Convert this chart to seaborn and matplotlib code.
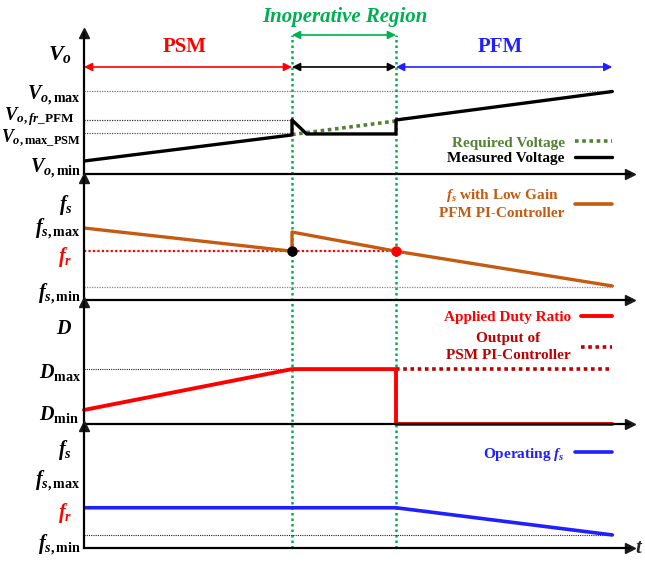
import matplotlib
matplotlib.use("Agg")
import matplotlib.pyplot as plt
import matplotlib.transforms as mtransforms
from matplotlib.lines import Line2D
import seaborn as sns

sns.set_theme(style="white")
plt.rcParams['font.family'] = ['Liberation Serif', 'DejaVu Serif']
plt.rcParams['font.weight'] = 'bold'
plt.rcParams['mathtext.fontset'] = 'custom'
plt.rcParams['mathtext.rm'] = 'Liberation Serif:bold'
plt.rcParams['mathtext.bf'] = 'Liberation Serif:bold'
plt.rcParams['mathtext.it'] = 'Liberation Serif:italic:bold'

# ---- data (time in units of PSM duration; levels as fraction of panel height) ----
t_psm_end = 1.0
t_inop_end = 1.5
t_end = 2.54

# Panel 1: output voltage
vo_levels = [0.589, 0.383, 0.291]          # Vo,max ; Vo,fr_PFM ; Vo,max_PSM
t_measured = [0.0, 1.0, 1.0, 1.07, 1.5, 1.5, 2.54]
v_measured = [0.092, 0.277, 0.383, 0.284, 0.284, 0.383, 0.585]
t_required = [1.0, 1.5]
v_required = [0.28, 0.376]

# Panel 2: fs with low gain PFM PI-controller
fs_max, f_r, fs_min = 0.59, 0.40, 0.107
t_fs = [0.0, 1.0, 1.0, 1.5, 2.54]
v_fs = [0.59, 0.40, 0.557, 0.40, 0.115]

# Panel 3: duty ratio
d_max = 0.45
t_duty = [0.0, 1.0, 1.5, 1.5, 2.54]
v_duty = [0.115, 0.45, 0.45, 0.0, 0.0]
t_psm_out = [1.5, 2.54]
v_psm_out = [0.45, 0.45]

# Panel 4: operating fs
fr4, fsmin4 = 0.33, 0.107
t_op = [0.0, 1.5, 2.54]
v_op = [0.33, 0.33, 0.107]

# ---- colours ----
ORANGE = '#c55a11'
RED = '#ff0000'
DRED = '#c00000'
BLUE = '#2020ff'
GREEN = '#00b050'
OLIVE = '#548235'

W, H = 645, 562
fig = plt.figure(figsize=(W / 100, H / 100), dpi=100)

XL, XR = 84, 630
def add_panel(base, top):
    return fig.add_axes([XL / W, 1 - base / H, (XR - XL) / W, (base - top) / H])

ax1 = add_panel(174, 33)
ax2 = add_panel(300, 178)
ax3 = add_panel(424, 302)
ax4 = add_panel(548, 426)
axes = [ax1, ax2, ax3, ax4]

for ax in axes:
    ax.set_xlim(0, (XR - XL) / 208)
    ax.set_ylim(0, 1)
    ax.set_xticks([])
    ax.set_yticks([])
    ax.patch.set_alpha(0)
    for s in ['top', 'right']:
        ax.spines[s].set_visible(False)
    for s in ['left', 'bottom']:
        ax.spines[s].set_color('black')
        ax.spines[s].set_linewidth(1.6)
    ax.plot(1, 0, '>k', ms=7, transform=ax.get_yaxis_transform(), clip_on=False)
    ax.plot(0, 1, '^k', ms=7, transform=ax.get_xaxis_transform(), clip_on=False)

LS = 14.5
def ylab(ax, y, s, dx=0, color='black', size=LS):
    tr = mtransforms.blended_transform_factory(ax.transAxes, ax.transData)
    ax.text(-(3 + dx) / (XR - XL), y, s, transform=tr, ha='right', va='center',
            fontsize=size, color=color)

def dotted(ax, x0, x1, y, color='#555555', lw=0.9):
    ax.plot([x0, x1], [y, y], color=color, lw=lw, ls=(0, (1, 1)), zorder=1)

# ---- Panel 1 ----
dotted(ax1, 0, t_end, vo_levels[0], color='#777777')
dotted(ax1, 0, t_psm_end, vo_levels[1], color='#333333')
dotted(ax1, 0, t_psm_end, vo_levels[2], color='#555555')
sns.lineplot(x=t_required, y=v_required, ax=ax1, sort=False, estimator=None,
             color=OLIVE, lw=2.6, ls=(0, (1, 1)))
sns.lineplot(x=t_measured, y=v_measured, ax=ax1, sort=False, estimator=None,
             color='black', lw=2.4)
ylab(ax1, 0.844, r'$V_o$', dx=9, size=16)
ylab(ax1, 0.56, r'$V_{o,\mathrm{max}}$')
ylab(ax1, 0.405, r'$V_{o,fr\_\mathrm{PFM}}$', dx=6, size=13.5)
ylab(ax1, 0.255, r'$V_{o,\mathrm{max}\_\mathrm{PSM}}$', size=12.8)
ylab(ax1, 0.043, r'$V_{o,\mathrm{min}}$')

# region arrows and titles
ya = 0.759
ax1.annotate('', xy=(t_psm_end, ya), xytext=(0, ya), annotation_clip=False,
             arrowprops=dict(arrowstyle='<|-|>', color=RED, lw=1.2, mutation_scale=12,
                             shrinkA=0, shrinkB=0))
ax1.annotate('', xy=(t_inop_end, ya), xytext=(t_psm_end, ya), annotation_clip=False,
             arrowprops=dict(arrowstyle='<|-|>', color='black', lw=1.2, mutation_scale=12,
                             shrinkA=0, shrinkB=0))
ax1.annotate('', xy=(t_end, ya), xytext=(t_inop_end, ya), annotation_clip=False,
             arrowprops=dict(arrowstyle='<|-|>', color=BLUE, lw=1.2, mutation_scale=12,
                             shrinkA=0, shrinkB=0))
ax1.annotate('', xy=(t_inop_end, 0.986), xytext=(t_psm_end, 0.986), annotation_clip=False,
             arrowprops=dict(arrowstyle='<|-|>', color=GREEN, lw=1.2, mutation_scale=12,
                             shrinkA=0, shrinkB=0))
ax1.text(0.486, 0.90, 'PSM', color=RED, fontsize=15, ha='center', va='center')
ax1.text(2.0, 0.90, 'PFM', color=BLUE, fontsize=15, ha='center', va='center')
ax1.text(1.255, 1.113, 'Inoperative Region', color=GREEN, fontsize=15, style='italic',
         ha='center', va='center', clip_on=False)

# green boundaries
for tb in (t_psm_end, t_inop_end):
    ax1.axvline(tb, ymin=-(548 - 174) / 141, ymax=0.986, color=GREEN, lw=1.8,
                ls=(0, (1, 1.2)), clip_on=False, zorder=0.5)

leg = ax1.legend(handles=[Line2D([], [], color=OLIVE, lw=2.6, ls=(0, (1, 1))),
                          Line2D([], [], color='black', lw=2.4)],
                 labels=['Required Voltage', 'Measured Voltage'],
                 loc='center right', bbox_to_anchor=(528 / 546, 0.167), frameon=False,
                 markerfirst=False, fontsize=11, handlelength=2.4, handletextpad=0.7,
                 labelspacing=0.12, borderpad=0, borderaxespad=0)
for txt, c in zip(leg.get_texts(), [OLIVE, 'black']):
    txt.set_color(c)

# ---- Panel 2 ----
dotted(ax2, 0, t_end, fs_min, color='#888888')
dotted(ax2, 0, t_inop_end, f_r, color=RED, lw=1.6)
sns.lineplot(x=t_fs, y=v_fs, ax=ax2, sort=False, estimator=None, color=ORANGE, lw=2.4)
ax2.plot([t_psm_end], [f_r], 'o', color='black', ms=6.5, zorder=5)
ax2.plot([t_inop_end], [f_r], 'o', color=RED, ms=6.5, zorder=5)
ylab(ax2, 0.78, r'$f_s$', dx=8)
ylab(ax2, 0.58, r'$f_{s,\mathrm{max}}$')
ylab(ax2, 0.35, r'$f_r$', dx=9, color=RED)
ylab(ax2, 0.05, r'$f_{s,\mathrm{min}}$')
leg = ax2.legend(handles=[Line2D([], [], color=ORANGE, lw=2.6)],
                 labels=['$f_s$ with Low Gain\nPFM PI-Controller'],
                 loc='center right', bbox_to_anchor=(528 / 546, 0.787), frameon=False,
                 markerfirst=False, fontsize=11, handlelength=2.4, handletextpad=0.7,
                 borderpad=0, borderaxespad=0)
for txt in leg.get_texts():
    txt.set_color(ORANGE)
    txt.set_multialignment('center')
    txt.set_linespacing(1.3)

# ---- Panel 3 ----
dotted(ax3, 0, t_psm_end, d_max, color='#222222', lw=0.8)
sns.lineplot(x=t_psm_out, y=v_psm_out, ax=ax3, sort=False, estimator=None,
             color=DRED, lw=2.6, ls=(0, (1, 1)))
sns.lineplot(x=t_duty, y=v_duty, ax=ax3, sort=False, estimator=None, color=RED, lw=2.8,
             clip_on=False)
ylab(ax3, 0.78, r'$D$', dx=9)
ylab(ax3, 0.42, r'$D_{\mathrm{max}}$')
ylab(ax3, 0.08, r'$D_{\mathrm{min}}$', dx=2)
leg = ax3.legend(handles=[Line2D([], [], color=RED, lw=2.8),
                          Line2D([], [], color=DRED, lw=2.6, ls=(0, (1, 1)))],
                 labels=['Applied Duty Ratio', 'Output of\nPSM PI-Controller'],
                 loc='center right', bbox_to_anchor=(528 / 546, 0.72), frameon=False,
                 markerfirst=False, fontsize=11, handlelength=2.0, handletextpad=0.7,
                 labelspacing=0.55, borderpad=0, borderaxespad=0)
for txt, c in zip(leg.get_texts(), [RED, DRED]):
    txt.set_color(c)
    txt.set_multialignment('center')
leg.get_texts()[1].set_linespacing(1.35)

# ---- Panel 4 ----
dotted(ax4, 0, t_end, fsmin4, color='#222222', lw=0.8)
sns.lineplot(x=t_op, y=v_op, ax=ax4, sort=False, estimator=None, color=BLUE, lw=2.6)
ylab(ax4, 0.80, r'$f_s$', dx=9)
ylab(ax4, 0.55, r'$f_{s,\mathrm{max}}$')
ylab(ax4, 0.29, r'$f_r$', dx=9, color=RED)
ylab(ax4, 0.025, r'$f_{s,\mathrm{min}}$')
leg = ax4.legend(handles=[Line2D([], [], color=BLUE, lw=2.6)],
                 labels=['Operating $f_s$'],
                 loc='center right', bbox_to_anchor=(528 / 546, 0.77), frameon=False,
                 markerfirst=False, fontsize=11, handlelength=2.4, handletextpad=0.7,
                 borderpad=0, borderaxespad=0)
for txt in leg.get_texts():
    txt.set_color(BLUE)
ax4.text(1.0 + 5 / 546, 0.0, r'$t$', transform=ax4.transAxes, fontsize=15,
         ha='left', va='center', clip_on=False)

for ax in axes:
    ax.set_xlabel('')
    ax.set_ylabel('')

fig.savefig('out.png', dpi=100)
